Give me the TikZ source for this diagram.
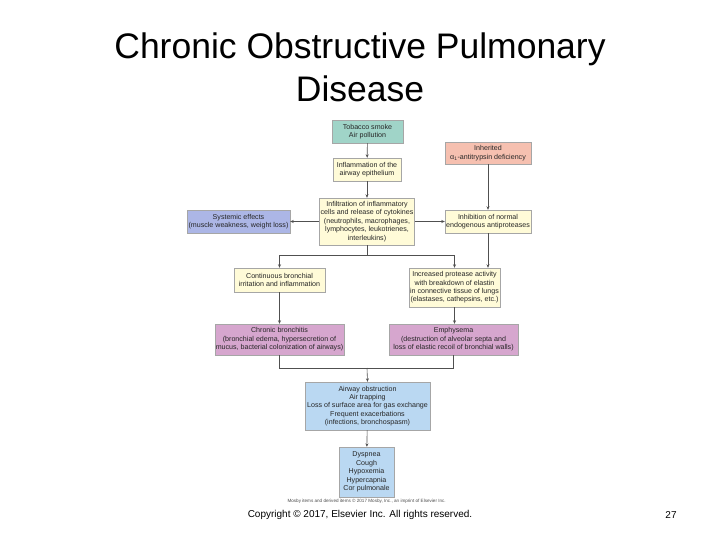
\documentclass[tikz,border=0pt]{standalone}
\usepackage{fontspec}
\setmainfont{Liberation Sans}
\usetikzlibrary{arrows.meta}
\definecolor{cteal}{RGB}{160,212,200}
\definecolor{csalmon}{RGB}{246,192,176}
\definecolor{cyel}{RGB}{255,251,216}
\definecolor{clav}{RGB}{172,182,230}
\definecolor{cpink}{RGB}{214,166,206}
\definecolor{cblue}{RGB}{186,216,242}
\definecolor{cline}{RGB}{80,80,80}
\begin{document}
\begin{tikzpicture}[x=1pt,y=-1pt,
  boxst/.style={draw=gray!70,line width=0.4pt,align=center,inner sep=1pt,
    font=\fontsize{7.1}{8.4}\selectfont,text=black!85},
  arr/.style={draw=cline,line width=0.6pt,-{Stealth[length=3.5pt,width=3pt]}},
  ln/.style={draw=cline,line width=0.6pt}]
\useasboundingbox (0,0) rectangle (720,540);
\node[font=\fontsize{35.5}{43}\selectfont,align=center] (title) at (360,67) {Chronic Obstructive Pulmonary\\Disease};
\node[boxst,fill=cteal,minimum width=71,minimum height=23] (tob) at (367.5,131.5) {Tobacco smoke\\Air pollution};
\node[boxst,fill=csalmon,minimum width=86,minimum height=22] (inh) at (488,153) {Inherited\\α\textsubscript{1}-antitrypsin deficiency};
\node[boxst,fill=cyel,minimum width=68,minimum height=23] (infl) at (367,169.5) {Inflammation of the\\airway epithelium};
\node[boxst,fill=cyel,minimum width=94,minimum height=47] (infil) at (367,221.5) {Infiltration of inflammatory\\cells and release of cytokines\\(neutrophils, macrophages,\\lymphocytes, leukotrienes,\\interleukins)};
\node[boxst,fill=clav,minimum width=103,minimum height=23] (sys) at (238.5,221.5) {Systemic effects\\(muscle weakness, weight loss)};
\node[boxst,fill=cyel,minimum width=86,minimum height=23] (inhib) at (488,221.5) {Inhibition of normal\\endogenous antiproteases};
\node[boxst,fill=cyel,minimum width=91,minimum height=24] (cont) at (279.5,280) {Continuous bronchial\\irritation and inflammation};
\node[boxst,fill=cyel,minimum width=91,minimum height=39] (prot) at (454.5,287.5) {Increased protease activity\\with breakdown of elastin\\in connective tissue of lungs\\(elastases, cathepsins, etc.)};
\node[boxst,fill=cpink,minimum width=129,minimum height=31] (chron) at (279.5,339.5) {Chronic bronchitis\\(bronchial edema, hypersecretion of\\mucus, bacterial colonization of airways)};
\node[boxst,fill=cpink,minimum width=129,minimum height=31] (emph) at (453.5,339.5) {Emphysema\\(destruction of alveolar septa and\\loss of elastic recoil of bronchial walls)};
\node[boxst,fill=cblue,minimum width=125,minimum height=48] (air) at (367.5,406) {Airway obstruction\\Air trapping\\Loss of surface area for gas exchange\\Frequent exacerbations\\(infections, bronchospasm)};
\node[boxst,fill=cblue,minimum width=55,minimum height=50] (dys) at (366.5,472) {Dyspnea\\Cough\\Hypoxemia\\Hypercapnia\\Cor pulmonale};
\coordinate (j1) at (367,255);
\coordinate (j2) at (367,368);
\draw[arr] (tob) -- (infl);
\draw[arr] (infl) -- (infil);
\draw[arr] (infil) -- (sys);
\draw[arr] (infil) -- (inhib);
\draw[arr] (inh) -- (inhib);
\draw[ln] (infil.south) -- (j1);
\draw[arr] (j1) -| (cont.north);
\draw[arr] (j1) -| (prot.north);
\draw[arr] (inhib.south) -- (inhib.south |- prot.north);
\draw[arr] (cont) -- (chron);
\draw[arr] (prot.south) -- (prot.south |- emph.north);
\draw[ln] (chron.south) |- (j2);
\draw[ln] (emph.south) |- (j2);
\draw[arr] (j2) -- (air.north);
\draw[arr] (air) -- (dys);
\node[font=\fontsize{4.6}{5}\selectfont,text=black!70,anchor=west] (credit) at (284,501) {Mosby items and derived items © 2017 Mosby, Inc., an imprint of Elsevier Inc.};
\node[font=\fontsize{10}{11}\selectfont] (copy) at (360,515) {Copyright © 2017, Elsevier Inc. All rights reserved.};
\node[font=\fontsize{10}{11}\selectfont] (page) at (671,515) {27};
\end{tikzpicture}
\end{document}
